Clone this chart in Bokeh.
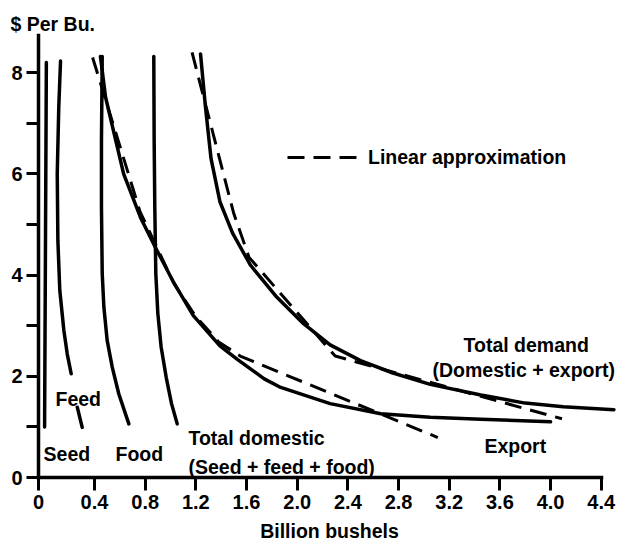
from bokeh.plotting import figure
from bokeh.models import Range1d, FixedTicker, Label, Legend, LegendItem, NumeralTickFormatter
from bokeh.embed import file_html
from bokeh.resources import INLINE

# ---------------- data (billion bushels, $ per bushel) ----------------
seed_q = [0.020, 0.013, 0.006]
seed_p = [8.20, 4.60, 1.00]

feed_q = [0.132, 0.118, 0.106, 0.111, 0.126, 0.158, 0.185, 0.216]
feed_p = [8.23, 7.32, 6.00, 4.68, 3.70, 2.91, 2.44, 2.05]
feed_tail_q = [0.264, 0.303]
feed_tail_p = [1.39, 0.99]

food_q = [0.461, 0.455, 0.455, 0.461, 0.474, 0.500, 0.540, 0.592, 0.671]
food_p = [8.32, 6.66, 5.34, 4.03, 3.37, 2.71, 2.18, 1.65, 1.06]

domestic_q = [0.868, 0.871, 0.876, 0.884, 0.900, 0.926, 0.966, 1.008, 1.053]
domestic_p = [8.32, 6.66, 5.34, 4.03, 3.24, 2.58, 1.98, 1.46, 1.06]

export_q = [0.447, 0.487, 0.630, 0.763, 0.880, 1.026, 1.180, 1.390, 1.530,
            1.740, 1.870, 2.260, 2.660, 3.050, 3.450, 4.000]
export_p = [8.32, 7.52, 6.00, 5.14, 4.55, 3.85, 3.20, 2.60, 2.33,
            1.95, 1.78, 1.46, 1.26, 1.19, 1.15, 1.10]

total_q = [1.237, 1.276, 1.320, 1.390, 1.490, 1.630, 1.840, 2.050, 2.260,
           2.500, 2.750, 3.050, 3.450, 3.800, 4.100, 4.500]
total_p = [8.37, 7.32, 6.30, 5.45, 4.83, 4.20, 3.56, 3.04, 2.62,
           2.31, 2.07, 1.84, 1.63, 1.47, 1.40, 1.34]

export_lin_q = [0.385, 0.760, 1.030, 1.200, 1.380, 1.550, 3.110]
export_lin_p = [8.30, 5.25, 3.82, 3.18, 2.68, 2.40, 0.79]

total_lin_q = [1.170, 1.500, 1.620, 2.300, 4.090]
total_lin_p = [8.40, 5.21, 4.35, 2.40, 1.16]

x_ticks = [0.4, 0.8, 1.2, 1.6, 2.0, 2.4, 2.8, 3.2, 3.6, 4.0, 4.4]
y_ticks = [0, 2, 4, 6, 8]
y_minor = [1, 3, 5, 7]

# ---------------- figure ----------------
FONT = "Liberation Sans"
X0, X1 = -0.042, 4.552
Y0, Y1 = 0.0, 8.735

p = figure(width=620, height=548, output_backend="svg", toolbar_location=None,
           x_range=Range1d(X0, X1), y_range=Range1d(Y0, Y1),
           min_border_left=38, min_border_right=0, min_border_top=35,
           min_border_bottom=71,
           title="$ Per Bu.")
p.outline_line_color = None
p.xgrid.visible = False
p.ygrid.visible = False
p.background_fill_color = "white"
p.border_fill_color = "white"

p.title.text_font = FONT
p.title.text_font_style = "bold"
p.title.text_font_size = "19.5px"
p.title.text_color = "black"
p.title.align = "left"
p.title.offset = -28
p.title.standoff = 1

for ax in (p.xaxis, p.yaxis):
    ax.axis_line_width = 3.5
    ax.axis_line_color = "black"
    ax.axis_line_cap = "square"
    ax.major_tick_line_width = 3
    ax.major_tick_line_color = "black"
    ax.major_tick_in = 0
    ax.major_label_text_font = FONT
    ax.major_label_text_font_style = "bold"
    ax.major_label_text_font_size = "20px"
    ax.major_label_text_color = "black"

p.xaxis.ticker = FixedTicker(ticks=[X0] + x_ticks)
p.xaxis.formatter = NumeralTickFormatter(format="0.0")
p.xaxis.major_label_overrides = {X0: "0"}
p.xaxis.major_tick_out = 13
p.xaxis.minor_tick_out = 0
p.xaxis.minor_tick_in = 0
p.xaxis.major_label_standoff = 4
p.xaxis.bounds = (X0, 4.4)
p.xaxis.axis_label = "Billion bushels"
p.xaxis.axis_label_text_font = FONT
p.xaxis.axis_label_text_font_style = "bold"
p.xaxis.axis_label_text_font_size = "19.5px"
p.xaxis.axis_label_text_color = "black"
p.xaxis.axis_label_standoff = 8

p.yaxis.ticker = FixedTicker(ticks=y_ticks, minor_ticks=y_minor)
p.yaxis.major_tick_out = 12
p.yaxis.minor_tick_out = 12
p.yaxis.minor_tick_in = 0
p.yaxis.minor_tick_line_width = 3
p.yaxis.minor_tick_line_color = "black"
p.yaxis.major_label_standoff = 4
p.yaxis.bounds = (Y0, Y1)

# ---------------- curves ----------------
solid = dict(line_color="black", line_width=3.5, line_cap="round", line_join="round")
dashed = dict(line_color="black", line_width=3, line_dash="17 9")

p.line(seed_q, seed_p, **solid)
p.line(feed_q, feed_p, **solid)
p.line(feed_tail_q, feed_tail_p, **solid)
p.line(food_q, food_p, **solid)
p.line(domestic_q, domestic_p, **solid)
p.line(export_q, export_p, **solid)
p.line(total_q, total_p, **solid)
r_lin = p.line(export_lin_q, export_lin_p, **dashed)
p.line(total_lin_q, total_lin_p, **dashed)

legend = Legend(items=[LegendItem(label="Linear approximation", renderers=[r_lin])],
                location=(249, 308), padding=0, margin=0, spacing=0,
                glyph_width=71, glyph_height=24, label_height=24,
                label_standoff=10, border_line_alpha=0,
                background_fill_alpha=0,
                label_text_font=FONT, label_text_font_style="bold",
                label_text_font_size="19.5px", label_text_color="black")
p.add_layout(legend)

# ---------------- text inside the plot ----------------
def lab(text, x, y, align="left"):
    p.add_layout(Label(x=x, y=y, text=text, text_font=FONT,
                       text_font_style="bold", text_font_size="19.5px",
                       text_color="black", text_align=align,
                       text_baseline="alphabetic"))

lab("Feed", 0.092, 1.561)
lab("Seed", -0.002, 0.474)
lab("Food", 0.566, 0.474)
lab("Total domestic", 1.142, 0.771)
lab("(Seed + feed + food)", 1.142, 0.217)
lab("Export", 3.478, 0.613)
lab("Total demand", 3.313, 2.609)
lab("(Domestic + export)", 3.068, 2.134)

open("out.html", "w").write(file_html(p, INLINE, title="Demand curves"))
